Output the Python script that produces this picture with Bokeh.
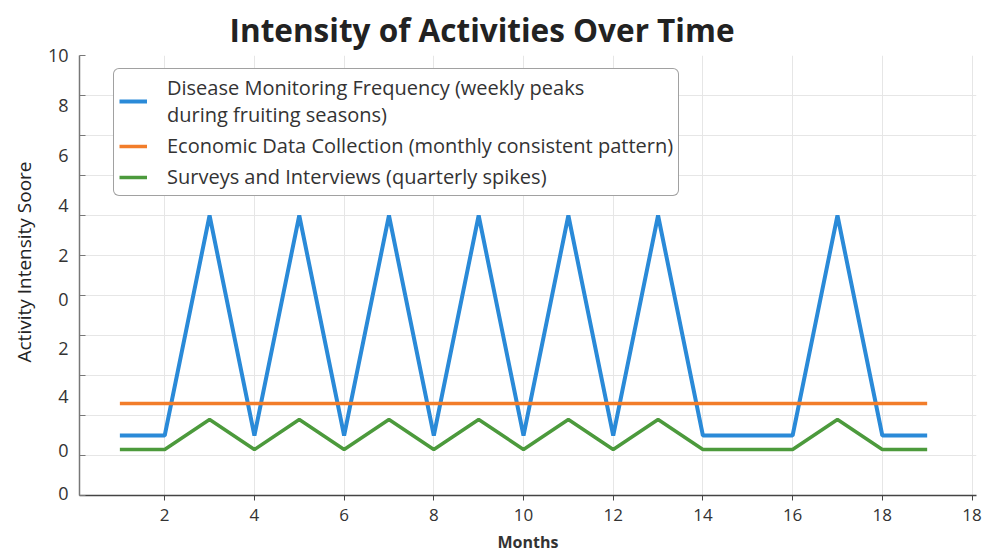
from bokeh.plotting import figure
from bokeh.models import Range1d, FixedTicker, Legend, LegendItem, Title
from bokeh.embed import file_html
from bokeh.resources import INLINE

# ---- data ----
months = list(range(1, 20))
disease = [1.5, 1.5, 7, 1.5, 7, 1.5, 7, 1.5, 7, 1.5, 7, 1.5, 7, 1.5, 1.5, 1.5, 7, 1.5, 1.5]
economic = [2.3] * 19
surveys = [1.15, 1.15, 1.9, 1.15, 1.9, 1.15, 1.9, 1.15, 1.9, 1.15, 1.9, 1.15, 1.9, 1.15, 1.15, 1.15, 1.9, 1.15, 1.15]

x_tick_values = [2, 4, 6, 8, 10, 12, 14, 16, 18, 20]
x_tick_labels = ["2", "4", "6", "8", "10", "12", "14", "16", "18", "18"]
y_grid_values = list(range(0, 12))
y_label_values = [11, 9.75, 8.5, 7.25, 6.0, 4.9, 3.67, 2.47, 1.12, 0.05]
y_label_texts = ["10", "8", "6", "4", "2", "0", "2", "4", "0", "0"]

labels = [
    "Disease Monitoring Frequency (weekly peaks\nduring fruiting seasons)",
    "Economic Data Collection (monthly consistent pattern)",
    "Surveys and Interviews (quarterly spikes)",
]
colors = ["#2a8ad8", "#f27d2a", "#4c9a3c"]

FONT = "Open Sans"

p = figure(frame_width=897, frame_height=440, output_backend="svg", toolbar_location=None,
           x_range=Range1d(0.1, 20.1), y_range=Range1d(0, 11),
           min_border_left=78, min_border_right=14, min_border_top=55, min_border_bottom=61)
p.outline_line_color = None

p.title.text = "Intensity of Activities Over Time"
p.title.text_font = FONT
p.title.text_font_size = "31.5px"
p.title.text_font_style = "bold"
p.title.text_color = "#222222"
p.title.align = "left"
p.title.offset = 150
p.title.standoff = 10

r1 = p.line(months, disease, line_color=colors[0], line_width=4)
r2 = p.line(months, economic, line_color=colors[1], line_width=3.5)
r3 = p.line(months, surveys, line_color=colors[2], line_width=3.5)

# axes
p.xaxis.ticker = FixedTicker(ticks=x_tick_values)
p.xaxis.major_label_overrides = {v: t for v, t in zip(x_tick_values, x_tick_labels)}
p.xaxis.axis_label = "Months"
p.xaxis.axis_label_text_font = FONT
p.xaxis.axis_label_text_font_size = "16px"
p.xaxis.axis_label_text_font_style = "bold"
p.xaxis.axis_label_text_color = "#333333"
p.xaxis.axis_label_standoff = 7
p.xaxis.major_label_text_font = FONT
p.xaxis.major_label_text_font_size = "17px"
p.xaxis.major_label_text_color = "#333333"
p.xaxis.major_label_standoff = 8
p.xaxis.axis_line_color = "#444444"
p.xaxis.axis_line_width = 1.5
p.xaxis.major_tick_line_color = "#444444"
p.xaxis.major_tick_in = 0
p.xaxis.major_tick_out = 5
p.xaxis.minor_tick_line_color = None

p.yaxis.ticker = FixedTicker(ticks=y_label_values, minor_ticks=y_grid_values)
p.yaxis.major_label_overrides = {v: t for v, t in zip(y_label_values, y_label_texts)}
p.yaxis.major_label_text_font = FONT
p.yaxis.major_label_text_font_size = "18px"
p.yaxis.major_label_text_color = "#333333"
p.yaxis.major_label_standoff = 11
p.yaxis.axis_line_color = "#777777"
p.yaxis.axis_line_width = 1.5
p.yaxis.major_tick_line_color = None
p.yaxis.major_tick_in = 0
p.yaxis.major_tick_out = 0
p.yaxis.minor_tick_line_color = "#777777"
p.yaxis.minor_tick_in = 6
p.yaxis.minor_tick_out = 0

ytitle = Title(text="Activity Intensity Soore", align="left", offset=133, standoff=16,
               text_font=FONT, text_font_size="19px", text_font_style="normal",
               text_color="#222222")
p.add_layout(ytitle, "left")

p.xgrid.grid_line_color = "#e6e6e6"
p.ygrid.grid_line_color = "#e6e6e6"
p.ygrid[0].ticker = FixedTicker(ticks=y_grid_values)

legend = Legend(items=[LegendItem(label=labels[0], renderers=[r1]),
                       LegendItem(label=labels[1], renderers=[r2]),
                       LegendItem(label=labels[2], renderers=[r3])],
                location=(34, 299))
legend.label_text_font = FONT
legend.label_text_font_size = "20px"
legend.label_text_line_height = 0.95
legend.label_text_color = "#333333"
legend.label_standoff = 20
legend.glyph_width = 28
legend.padding = 5
legend.spacing = 4
legend.border_line_color = "#444444"
legend.border_line_width = 1.2
legend.border_radius = 6
legend.background_fill_color = "white"
legend.background_fill_alpha = 1.0
p.add_layout(legend, "center")

open("out.html", "w").write(file_html(p, INLINE))
